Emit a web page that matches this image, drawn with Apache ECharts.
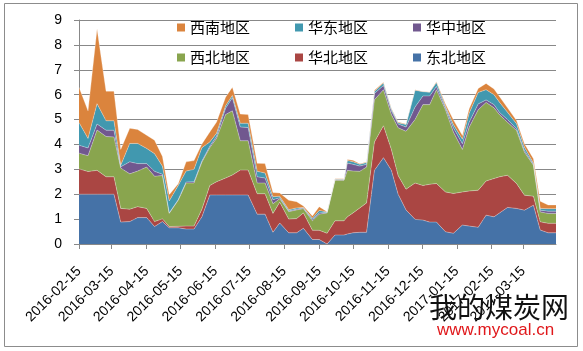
<!DOCTYPE html>
<html>
<head>
<meta charset="utf-8">
<script src="https://cdn.jsdelivr.net/npm/echarts@6/dist/echarts.min.js"></script>
<style>
  html, body { margin: 0; padding: 0; background: #fff; }
  #chart_coal { width: 583px; height: 351px; }
</style>
</head>
<body>
<div id="chart_coal"></div>
<script>
// dates (roughly weekly)
const dates = [
  "2016-02-15", "2016-02-23", "2016-03-02", "2016-03-10", "2016-03-17", "2016-03-23", "2016-03-31",
  "2016-04-07", "2016-04-15", "2016-04-22", "2016-04-29", "2016-05-05", "2016-05-13", "2016-05-20",
  "2016-05-27", "2016-06-03", "2016-06-10", "2016-06-16", "2016-06-24", "2016-06-30", "2016-07-07",
  "2016-07-14", "2016-07-22", "2016-07-29", "2016-08-05", "2016-08-11", "2016-08-19", "2016-08-26",
  "2016-09-01", "2016-09-09", "2016-09-15", "2016-09-22", "2016-09-29", "2016-10-07", "2016-10-10",
  "2016-10-15", "2016-10-21", "2016-10-27", "2016-11-03", "2016-11-11", "2016-11-18", "2016-11-24",
  "2016-12-01", "2016-12-09", "2016-12-16", "2016-12-22", "2016-12-28", "2017-01-05", "2017-01-12",
  "2017-01-20", "2017-01-26", "2017-02-03", "2017-02-10", "2017-02-17", "2017-02-22", "2017-03-01",
  "2017-03-09", "2017-03-16", "2017-03-24", "2017-03-30", "2017-04-06", "2017-04-13"
];

const xTickLabels = [
  "2016-02-15", "2016-03-15", "2016-04-15", "2016-05-15", "2016-06-15", "2016-07-15", "2016-08-15",
  "2016-09-15", "2016-10-15", "2016-11-15", "2016-12-15", "2017-01-15", "2017-02-15", "2017-03-15"
];

const dongbei = [
  2.0, 2.0, 2.0, 2.0, 2.0, 0.88, 0.9, 1.06, 1.06, 0.7, 0.9, 0.65, 0.65, 0.6, 0.6, 1.09,
  1.97, 1.97, 1.97, 1.97, 1.97, 1.97, 1.2, 1.2, 0.47, 0.84, 0.45, 0.45, 0.63, 0.18, 0.18, 0.0,
  0.36, 0.36, 0.4, 0.45, 0.47, 0.47, 2.96, 3.47, 2.96, 2.0, 1.37, 0.99, 0.96, 0.88, 0.88,
  0.49, 0.43, 0.76, 0.72, 0.67, 1.16, 1.09, 1.25, 1.47, 1.43, 1.36, 1.56, 0.56, 0.45, 0.45
];
const huabei = [
  1.02, 0.91, 0.96, 0.7, 0.7, 0.55, 0.5, 0.44, 0.37, 0.2, 0.11, 0.05, 0.06, 0.12, 0.12, 0.31,
  0.38, 0.53, 0.68, 0.8, 1.0, 1.0, 0.82, 0.82, 0.76, 0.84, 0.55, 0.57, 0.62, 0.37, 0.37, 0.43,
  0.57, 0.57, 0.69, 0.8, 0.98, 1.18, 1.14, 1.28, 0.84, 0.75, 0.83, 1.46, 1.39, 1.52, 1.55,
  1.6, 1.6, 1.33, 1.41, 1.49, 1.37, 1.54, 1.45, 1.29, 1.0, 0.6, 0.36, 0.33, 0.38, 0.38
];
const xibei = [
  0.63, 0.64, 1.62, 1.62, 1.6, 1.62, 1.42, 1.43, 1.66, 1.82, 1.74, 0.53, 1.05, 1.73, 1.73, 1.89,
  1.52, 1.75, 2.55, 2.58, 1.18, 1.18, 0.43, 0.43, 0.39, 0.14, 0.3, 0.35, 0.17, 0.38, 0.65, 0.82,
  1.63, 1.63, 1.87, 1.68, 1.47, 1.44, 1.7, 1.45, 1.4, 1.92, 2.33, 2.55, 3.25, 3.2, 3.77,
  3.3, 2.47, 1.71, 2.56, 3.23, 3.16, 2.84, 2.49, 2.13, 2.13, 1.73, 1.24, 0.4, 0.4, 0.4
];
const huazhong = [
  0.32, 0.31, 0.24, 0.25, 0.27, 0.05, 0.48, 0.3, 0.14, 0.2, 0.05, 0.02, 0.02, 0.04, 0.05, 0.04,
  0.06, 0.08, 0.25, 0.53, 0.55, 0.53, 0.25, 0.2, 0.16, 0.04, 0.03, 0.03, 0.03, 0.05, 0.05, 0.02,
  0.02, 0.02, 0.29, 0.27, 0.21, 0.11, 0.25, 0.17, 0.15, 0.15, 0.17, 0.5, 0.35, 0.35, 0.13,
  0.08, 0.17, 0.23, 0.2, 0.24, 0.1, 0.13, 0.09, 0.11, 0.07, 0.07, 0.04, 0.07, 0.09, 0.09
];
const huadong = [
  0.91, 0.38, 0.82, 0.38, 0.38, 0.06, 0.74, 0.81, 0.61, 0.71, 0.32, 0.48, 0.57, 0.44, 0.5, 0.54,
  0.17, 0.12, 0.1, 0.09, 0.15, 0.17, 0.22, 0.2, 0.12, 0.06, 0.05, 0.05, 0.02, 0.05, 0.1, 0.02,
  0.02, 0.02, 0.1, 0.1, 0.07, 0.07, 0.08, 0.1, 0.07, 0.05, 0.1, 0.68, 0.17, 0.15, 0.16,
  0.06, 0.13, 0.18, 0.36, 0.46, 0.41, 0.4, 0.41, 0.29, 0.2, 0.13, 0.05, 0.07, 0.1, 0.1
];
const xinan = [
  1.42, 1.11, 3.01, 1.19, 1.19, 0.64, 0.61, 0.56, 0.53, 0.54, 0.4, 0.25, 0.07, 0.37, 0.35, 0.15,
  0.4, 0.45, 0.35, 0.33, 0.37, 0.35, 0.32, 0.38, 0.17, 0.13, 0.38, 0.25, 0.06, 0.1, 0.15, 0.01,
  0.02, 0.02, 0.05, 0.06, 0.02, 0.02, 0.05, 0.03, 0.03, 0.03, 0.02, 0.02, 0.01, 0.01, 0.03,
  0.1, 0.19, 0.15, 0.18, 0.16, 0.25, 0.23, 0.23, 0.18, 0.13, 0.14, 0.18, 0.29, 0.15, 0.15
];

function toTime(s) {
  let p = s.split("-");
  return new Date(+p[0], +p[1] - 1, +p[2]).getTime();
}
function pad(n) {
  return n < 10 ? "0" + n : "" + n;
}

function areaSeries(name, values, color) {
  return {
    name: name,
    type: "line",
    stack: "total",
    xAxisIndex: 0,
    showSymbol: false,
    symbol: "none",
    lineStyle: { width: 1, color: "rgba(255,255,255,0.3)" },
    areaStyle: { color: color, opacity: 1 },
    itemStyle: { color: color },
    emphasis: { disabled: true },
    data: dates.map((d, i) => [toTime(d), values[i]]),
  };
}

let tMin = toTime(dates[0]);
let tMax = toTime(dates[dates.length - 1]);
let tickTimes = xTickLabels.map(toTime);
let myChart = echarts.init(document.getElementById("chart_coal"));
let legendText = { fontFamily: "Noto Sans CJK SC", fontSize: 15, color: "#000" };
let option = {
  backgroundColor: "#fff",
  animation: false,
  grid: { left: 79, right: 27, top: 20, bottom: 107, containLabel: false },
  legend: [
    {
      data: ["西南地区", "华东地区", "华中地区"],
      left: 172,
      top: 15,
      icon: "rect",
      itemWidth: 8,
      itemHeight: 8,
      itemGap: 45,
      textStyle: legendText,
    },
    {
      data: ["西北地区", "华北地区", "东北地区"],
      left: 172,
      top: 45,
      icon: "rect",
      itemWidth: 8,
      itemHeight: 8,
      itemGap: 45,
      textStyle: legendText,
    },
  ],
  xAxis: [
    {
      // time axis carries the data (stacking works on it)
      type: "time",
      position: "bottom",
      min: tMin,
      max: tMax,
      axisLine: { show: false },
      axisTick: { show: false },
      axisLabel: { show: false },
      splitLine: { show: false },
    },
    {
      // same span, only used for the monthly ticks and labels
      type: "value",
      position: "bottom",
      min: tMin,
      max: tMax,
      axisLine: { show: true, onZero: false, lineStyle: { color: "#888", width: 1 } },
      axisTick: {
        show: true,
        length: 5,
        customValues: tickTimes,
        lineStyle: { color: "#888" },
      },
      axisLabel: {
        customValues: tickTimes,
        rotate: 45,
        margin: 25,
        hideOverlap: false,
        color: "#000",
        fontFamily: "Liberation Sans",
        fontSize: 14,
        formatter: function (v) {
          let d = new Date(v);
          return d.getFullYear() + "-" + pad(d.getMonth() + 1) + "-" + pad(d.getDate());
        },
      },
      splitLine: { show: false },
    },
  ],
  yAxis: {
    type: "value",
    min: 0,
    max: 9,
    interval: 1,
    axisLine: { show: true, lineStyle: { color: "#888", width: 1 } },
    axisTick: { show: true, length: 5, lineStyle: { color: "#888" } },
    axisLabel: { color: "#000", fontFamily: "Liberation Sans", fontSize: 14, margin: 17 },
    splitLine: { show: true, lineStyle: { color: "#888", width: 1 } },
  },
  series: [
    areaSeries("东北地区", dongbei, "#4572A7"),
    areaSeries("华北地区", huabei, "#AA4643"),
    areaSeries("西北地区", xibei, "#89A54E"),
    areaSeries("华中地区", huazhong, "#71588F"),
    areaSeries("华东地区", huadong, "#4198AF"),
    areaSeries("西南地区", xinan, "#DB843D"),
  ],
  graphic: [
    {
      type: "rect",
      z: 100,
      shape: { x: 4.5, y: 3.5, width: 573, height: 343 },
      style: { fill: "none", stroke: "#8c8c8c", lineWidth: 1 },
    },
    {
      type: "text",
      z: 100,
      left: 429,
      top: 293,
      style: { text: "我的煤炭网", fontFamily: "Noto Sans CJK SC", fontSize: 28, fill: "#111" },
    },
    {
      type: "text",
      z: 100,
      left: 437,
      top: 322,
      style: { text: "www.mycoal.cn", fontFamily: "Liberation Sans", fontSize: 17, fill: "#e0181b" },
    },
  ],
};
myChart.setOption(option);
</script>
</body>
</html>
